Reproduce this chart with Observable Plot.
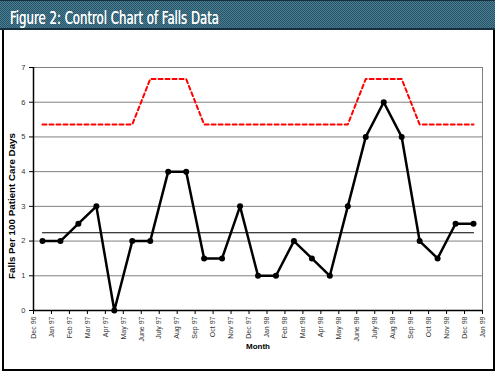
<!DOCTYPE html>
<html><head><meta charset="utf-8">
<script src="https://cdn.jsdelivr.net/npm/d3@7"></script>
<script src="https://cdn.jsdelivr.net/npm/@observablehq/plot@0.6"></script>
<style>
body{margin:0;background:#fff;font-family:"Liberation Sans",Arial,sans-serif;}
#wrap{position:relative;width:499px;height:374px;overflow:hidden;background:#fff;}
#band{position:absolute;left:0;top:0;width:495px;height:27px;border-top:1px solid #17303b;border-bottom:2px solid #17303b;background-color:#36677c;background-image:repeating-conic-gradient(#285468 0 25%, #4a7d92 0 50%);background-size:2px 2px;}
#title{position:absolute;left:10px;top:5px;color:#fff;font-family:"Liberation Sans Narrow","DejaVu Sans Condensed",sans-serif;font-size:18px;line-height:24px;white-space:nowrap;transform-origin:0 0;text-shadow:0 0 0.4px #fff;}
#panel{position:absolute;left:2px;top:30px;width:489px;height:339px;border:2px solid #000;border-top:none;pointer-events:none;z-index:2;}
#chart{position:absolute;left:0;top:30px;z-index:1;}
</style>
</head><body>
<div id="wrap">
  <div id="band"><div id="title">Figure 2: Control Chart of Falls Data</div></div>
  <div id="chart"></div>
  <div id="panel"></div>
</div>
<script>
const months = ["Dec 96","Jan 97","Feb 97","Mar 97","Apr 97","May 97","June 97","July 97","Aug 97","Sep 97","Oct 97","Nov 97","Dec 97","Jan 98","Feb 98","Mar 98","Apr 98","May 98","June 98","July 98","Aug 98","Sep 98","Oct 98","Nov 98","Dec 98","Jan 99"];
const falls = [2, 2, 2.5, 3, 0, 2, 2, 4, 4, 1.5, 1.5, 3, 1, 1, 2, 1.5, 1, 3, 5, 6, 5, 2, 1.5, 2.5, 2.5];
const ucl = [5.36,5.36,5.36,5.36,5.36,5.36,6.67,6.67,6.67,5.36,5.36,5.36,5.36,5.36,5.36,5.36,5.36,5.36,6.67,6.67,6.67,5.36,5.36,5.36,5.36];
const centerLine = 2.24;
const yTicks = [0,1,2,3,4,5,6,7];
const yLabel = "Falls Per 100 Patient Care Days";
const xLabel = "Month";

const rows = falls.map((v,i)=>({pos:i+0.5, falls:v, ucl:ucl[i], cl:centerLine}));
const last = months.length-1;

const chart = Plot.plot({
  width:495, height:339,
  marginLeft:33, marginRight:13, marginTop:37, marginBottom:59,
  style:{fontFamily:"'Liberation Sans', Arial, sans-serif", fontSize:"7px", background:"transparent", color:"#333", overflow:"visible"},
  x:{domain:[0,last]},
  y:{domain:[0,7]},
  marks:[
    Plot.gridY(yTicks.slice(1), {stroke:"#808080", strokeOpacity:1}),
    Plot.ruleX([last], {stroke:"#808080"}),
    Plot.line(rows,{x:"pos",y:"cl",stroke:"black",strokeWidth:1.2}),
    Plot.line(rows,{x:"pos",y:"ucl",stroke:"#ff0000",strokeWidth:2,strokeDasharray:"4,3"}),
    Plot.line(rows,{x:"pos",y:"falls",stroke:"black",strokeWidth:2.5}),
    Plot.dot(rows,{x:"pos",y:"falls",fill:"black",r:3}),
    Plot.ruleY([0],{stroke:"black",strokeWidth:1.5}),
    Plot.ruleX([0],{stroke:"black",strokeWidth:1.5}),
    Plot.axisY({ticks:yTicks, tickFormat:d=>String(d), tickSize:4, tickPadding:4, label:null, fontSize:7.5, stroke:"black"}),
    Plot.axisX({ticks:d3.range(months.length), tickFormat:i=>months[i], tickRotate:-90, tickSize:4, tickPadding:2, label:null, stroke:"black"}),
    Plot.text([yLabel],{frameAnchor:"left", textAnchor:"middle", rotate:-90, dx:-22, dy:17, fontWeight:"bold", fontSize:9.8, fill:"black"}),
    Plot.text([xLabel],{frameAnchor:"bottom", textAnchor:"middle", dy:38, fontWeight:"bold", fontSize:8, fill:"black"})
  ]
});
document.getElementById("chart").appendChild(chart);

const t = document.getElementById("title");
const w = t.getBoundingClientRect().width;
t.style.transform = `scaleX(${209/w})`;
</script>
</body></html>
